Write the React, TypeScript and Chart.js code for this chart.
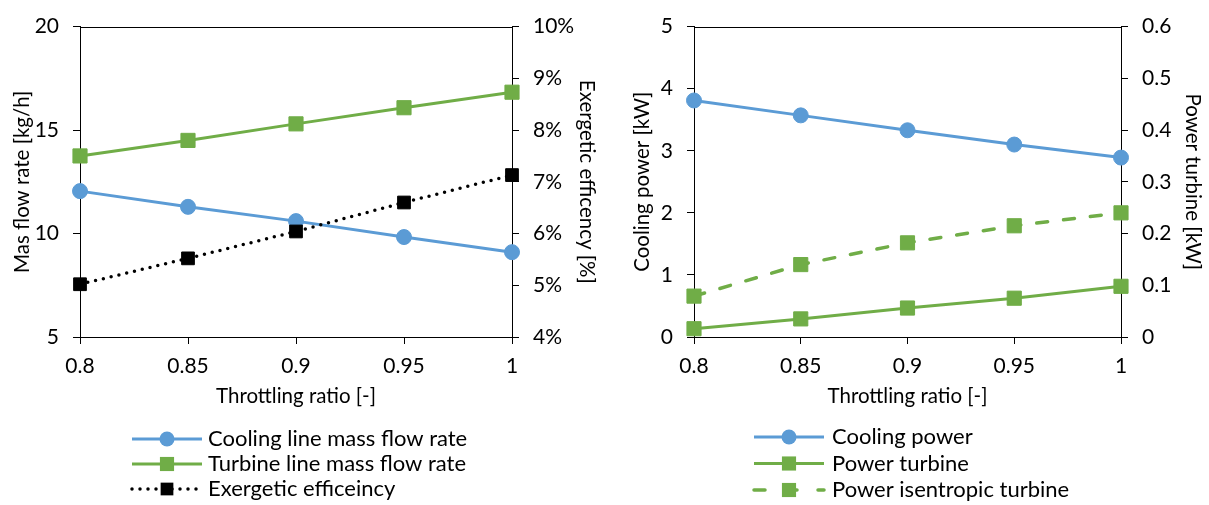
import React, { useEffect, useRef } from 'react';
import { Chart, registerables } from 'chart.js';

Chart.register(...registerables);

// ---- data ----
const throttlingRatio = ['0.8', '0.85', '0.9', '0.95', '1'];
const coolingMassFlow = [12.05, 11.29, 10.6, 9.83, 9.1];
const turbineMassFlow = [13.75, 14.5, 15.3, 16.08, 16.83];
const exergeticEfficiency = [5.02, 5.52, 6.04, 6.6, 7.13];
const coolingPower = [3.81, 3.57, 3.33, 3.1, 2.89];
const powerTurbine = [0.016, 0.035, 0.056, 0.075, 0.098];
const powerIsentropic = [0.079, 0.14, 0.182, 0.215, 0.24];

const BLUE = '#5B9BD5';
const GREEN = '#70AD47';
const FAMILY = 'Lato, "Open Sans", sans-serif';
const tickFont = { family: FAMILY, size: 21 };
const titleFont = { family: FAMILY, size: 20.5 };
const legendFontSize = 22;

const topBorderPlugin = {
  id: 'topBorder',
  afterDatasetsDraw(chart: any) {
    const { ctx, chartArea } = chart;
    ctx.save();
    ctx.strokeStyle = '#000';
    ctx.lineWidth = 1;
    const y = Math.round(chartArea.top) + 0.5;
    ctx.beginPath();
    ctx.moveTo(chartArea.left, y);
    ctx.lineTo(chartArea.right, y);
    ctx.stroke();
    ctx.restore();
  },
};

const customLegendPlugin = {
  id: 'customLegend',
  afterDraw(chart: any, _args: any, opts: any) {
    const { ctx } = chart;
    const { x, y0, rowH, lineW, textX } = opts;
    ctx.save();
    chart.data.datasets.forEach((ds: any, i: number) => {
      const y = y0 + i * rowH;
      ctx.strokeStyle = ds.borderColor;
      ctx.lineWidth = ds.borderWidth;
      ctx.lineCap = ds.borderCapStyle || 'butt';
      ctx.setLineDash(ds.legendDash || ds.borderDash || []);
      ctx.beginPath();
      ctx.moveTo(x, y);
      ctx.lineTo(x + lineW, y);
      ctx.stroke();
      ctx.setLineDash([]);
      const cx = x + lineW / 2;
      ctx.fillStyle = ds.backgroundColor;
      ctx.beginPath();
      if (ds.pointStyle === 'circle') {
        ctx.arc(cx, y, ds.pointRadius, 0, Math.PI * 2);
      } else {
        const s = ds.pointRadius * Math.SQRT1_2;
        ctx.rect(cx - s, y - s, 2 * s, 2 * s);
      }
      ctx.fill();
      ctx.fillStyle = '#000';
      ctx.font = `${legendFontSize}px ${FAMILY}`;
      ctx.textBaseline = 'middle';
      ctx.textAlign = 'left';
      ctx.fillText(ds.label, textX, y);
    });
    ctx.restore();
  },
};

function axisCommon() {
  return {
    grid: {
      display: true,
      drawOnChartArea: false,
      drawTicks: true,
      tickLength: 7,
      color: '#000',
      lineWidth: 1,
    },
    border: { display: true, color: '#000', width: 1 },
  };
}

function xAxis() {
  return {
    type: 'category' as const,
    offset: false,
    ...axisCommon(),
    ticks: { font: tickFont, color: '#000', padding: 10, maxRotation: 0, autoSkip: false },
    title: {
      display: true,
      text: 'Throttling ratio [-]',
      font: titleFont,
      color: '#000',
      padding: { top: 0, bottom: 8 },
    },
    afterFit: (s: any) => {
      s.height = 80;
    },
  };
}

function yAxis(
  position: 'left' | 'right',
  min: number,
  max: number,
  step: number,
  title: string,
  titlePad: number,
  width: number,
  fmt?: (v: number) => string,
) {
  return {
    type: 'linear' as const,
    position,
    min,
    max,
    ...axisCommon(),
    ticks: {
      stepSize: step,
      font: tickFont,
      color: '#000',
      padding: 14,
      ...(fmt ? { callback: (v: any) => fmt(Number(v)) } : {}),
    },
    title: {
      display: true,
      text: title,
      font: titleFont,
      color: '#000',
      padding: { top: titlePad, bottom: 0 },
    },
    afterFit: (s: any) => {
      s.width = width;
    },
  };
}

function lineDs(
  label: string,
  data: number[],
  color: string,
  yAxisID: string,
  pointStyle: string,
  pointRadius: number,
  extra: any = {},
) {
  return {
    label,
    data,
    yAxisID,
    borderColor: color,
    backgroundColor: color,
    borderWidth: 3,
    pointStyle,
    pointRadius,
    pointHoverRadius: pointRadius,
    pointBackgroundColor: color,
    pointBorderColor: color,
    pointBorderWidth: 1,
    tension: 0,
    clip: false,
    ...extra,
  };
}

function ChartCanvas({ config, width, height, left }: any) {
  const ref = useRef<HTMLCanvasElement>(null);
  useEffect(() => {
    if (!ref.current) return;
    const chart = new Chart(ref.current, config);
    return () => chart.destroy();
  }, []);
  return (
    <canvas
      ref={ref}
      width={width}
      height={height}
      style={{ position: 'absolute', left, top: 0, width, height }}
    />
  );
}

const leftConfig: any = {
  type: 'line',
  data: {
    labels: throttlingRatio,
    datasets: [
      lineDs('Cooling line mass flow rate', coolingMassFlow, BLUE, 'y', 'circle', 7.5, { order: 3 }),
      lineDs('Turbine line mass flow rate', turbineMassFlow, GREEN, 'y', 'rect', 10, { order: 2 }),
      lineDs('Exergetic efficeincy', exergeticEfficiency, '#000', 'y1', 'rect', 9, {
        order: 1,
        borderWidth: 3.5,
        borderDash: [0, 8],
        borderCapStyle: 'round',
      }),
    ],
  },
  options: {
    animation: false,
    responsive: false,
    maintainAspectRatio: false,
    layout: { padding: { top: 20, bottom: 88, left: 0, right: 0 } },
    plugins: {
      legend: { display: false },
      tooltip: { enabled: false },
      customLegend: { x: 132, y0: 439, rowH: 25, lineW: 70, textX: 208 },
    },
    scales: {
      x: xAxis(),
      y: yAxis('left', 5, 20, 5, 'Mas flow rate [kg/h]', 10, 80),
      y1: yAxis('right', 4, 10, 1, 'Exergetic efficency [%]', 1, 88, (v) => `${v}%`),
    },
  },
  plugins: [topBorderPlugin, customLegendPlugin],
};

const rightConfig: any = {
  type: 'line',
  data: {
    labels: throttlingRatio,
    datasets: [
      lineDs('Cooling power', coolingPower, BLUE, 'y', 'circle', 7.5, { order: 3 }),
      lineDs('Power turbine', powerTurbine, GREEN, 'y1', 'rect', 10, { order: 2 }),
      lineDs('Power isentropic turbine', powerIsentropic, GREEN, 'y1', 'rect', 10, {
        order: 1,
        borderWidth: 3.5,
        borderDash: [11, 16],
        borderCapStyle: 'round',
        legendDash: [11, 21],
      }),
    ],
  },
  options: {
    animation: false,
    responsive: false,
    maintainAspectRatio: false,
    layout: { padding: { top: 20, bottom: 88, left: 0, right: 0 } },
    plugins: {
      legend: { display: false },
      tooltip: { enabled: false },
      customLegend: { x: 154, y0: 437, rowH: 26.5, lineW: 70, textX: 232 },
    },
    scales: {
      x: xAxis(),
      y: yAxis('left', 0, 5, 1, 'Cooling power [kW]', 30, 94),
      y1: yAxis('right', 0, 0.6, 0.1, 'Power turbine [kW]', 4, 88),
    },
  },
  plugins: [topBorderPlugin, customLegendPlugin],
};

export default function App() {
  return (
    <div style={{ position: 'absolute', left: 0, top: 0, width: 1209, height: 505, background: '#fff' }}>
      <ChartCanvas config={leftConfig} width={600} height={505} left={0} />
      <ChartCanvas config={rightConfig} width={609} height={505} left={600} />
    </div>
  );
}
